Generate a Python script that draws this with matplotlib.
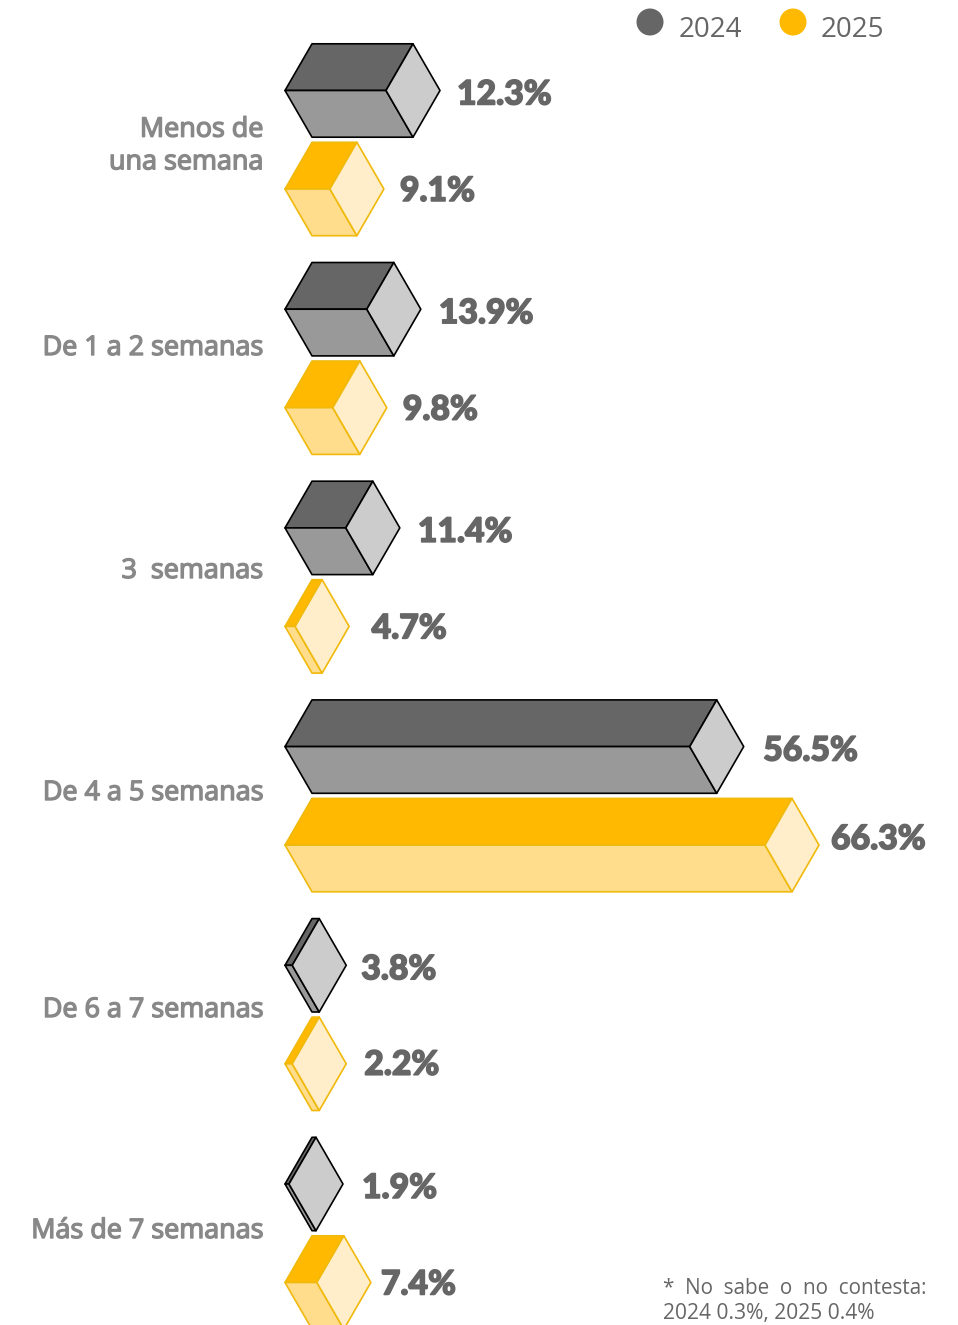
import matplotlib
matplotlib.use("Agg")
import matplotlib.pyplot as plt
import matplotlib.patheffects as pe
from matplotlib.patches import Polygon

categories = ["Menos de\nuna semana", "De 1 a 2 semanas", "3  semanas",
              "De 4 a 5 semanas", "De 6 a 7 semanas", "Más de 7 semanas"]
labels_2024 = ["12.3%", "13.9%", "11.4%", "56.5%", "3.8%", "1.9%"]
labels_2025 = ["9.1%", "9.8%", "4.7%", "66.3%", "2.2%", "7.4%"]
# bar lengths as they are drawn in the picture, they do not follow the printed labels
lengths_2024 = [13.95, 11.3, 8.4, 55.9, 1.0, 0.55]
lengths_2025 = [6.2, 6.6, 1.4, 66.3, 1.0, 4.4]

W, H = 958, 1325
SCALE = 7.24    # pixels per unit of bar length
X0 = 285
DEPTH = 27      # side shift of the 3d box, pixels
HALF = 46.7     # half height of the box, pixels

GREYS = {"top": "#666666", "front": "#999999", "side": "#cccccc", "edge": "#000000"}
YELLOWS = {"top": "#ffb900", "front": "#ffdd8c", "side": "#ffeec9", "edge": "#f0b90b"}

fig = plt.figure(figsize=(W / 100, H / 100), dpi=100)
ax = fig.add_axes([0, 0, 1, 1])
ax.set_xlim(-X0 / SCALE, (W - X0) / SCALE)
ax.set_ylim(H, 0)
ax.axis("off")


def px(x):
    return (x - X0) / SCALE


def box(length, yc, colors):
    d = DEPTH / SCALE
    top = [(0, yc), (d, yc - HALF), (length + d, yc - HALF), (length, yc)]
    front = [(0, yc), (d, yc + HALF), (length + d, yc + HALF), (length, yc)]
    side = [(length, yc), (length + d, yc - HALF), (length + 2 * d, yc), (length + d, yc + HALF)]
    for pts, key in [(top, "top"), (front, "front"), (side, "side")]:
        ax.add_patch(Polygon(pts, closed=True, facecolor=colors[key],
                             edgecolor=colors["edge"], linewidth=1.2, joinstyle="round"))
    return length + 2 * d


def value_label(x, y, txt):
    ax.text(x, y, txt, family="Lato", weight="black", fontsize=24.3, color="#666666",
            va="center", ha="left",
            path_effects=[pe.withStroke(linewidth=1.1, foreground="#666666")])


gaps_2024 = [17, 18, 18, 19.5, 15, 19]
gaps_2025 = [16, 16, 22.5, 12, 18, 10]
shift_2025 = [2, 2, 2, -6, 1, 2]
label_y = [146, 348, 571, 793, 1010, 1231]

for i, cat in enumerate(categories):
    y24 = 90.5 + i * 218.7
    y25 = y24 + 98.5
    tip = box(lengths_2024[i], y24, GREYS)
    value_label(tip + gaps_2024[i] / SCALE, y24 + 4, labels_2024[i])
    tip = box(lengths_2025[i], y25, YELLOWS)
    value_label(tip + gaps_2025[i] / SCALE, y25 + shift_2025[i], labels_2025[i])
    ax.text(px(263), label_y[i], cat, family="Open Sans", fontsize=19.4, color="#888888",
            ha="right", va="center", linespacing=1.22,
            path_effects=[pe.withStroke(linewidth=1.0, foreground="#888888")])

# legend
ax.scatter([px(650), px(793)], [22, 22], s=378, c=["#666666", "#ffb900"], linewidths=0)
ax.text(px(710), 30, "2024", family="Open Sans", fontsize=20, color="#666666", ha="center", va="center")
ax.text(px(852), 30, "2025", family="Open Sans", fontsize=20, color="#666666", ha="center", va="center")

ax.text(px(663), 1288, "*  No  sabe  o  no  contesta:", family="Open Sans", fontsize=14.9,
        color="#666666", ha="left", va="center")
ax.text(px(663), 1314, "2024 0.3%, 2025 0.4%", family="Open Sans", fontsize=15.1,
        color="#666666", ha="left", va="center")

fig.savefig("out.png", dpi=100)
